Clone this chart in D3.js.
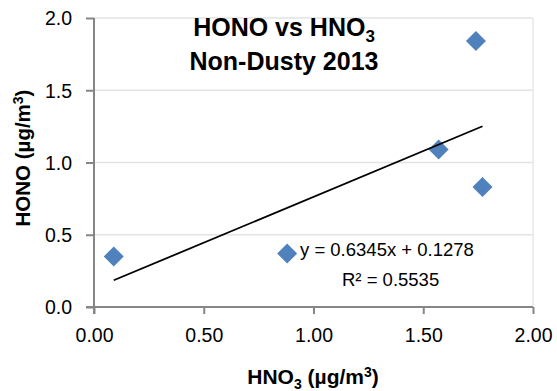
<!DOCTYPE html>
<html>
<head>
<meta charset="utf-8">
<script src="https://cdn.jsdelivr.net/npm/d3@7"></script>
<style>
  html, body { margin: 0; padding: 0; background: #fff; }
  svg { display: block; font-family: "Liberation Sans", Arial, sans-serif; }
</style>
</head>
<body>
<svg id="chart" width="557" height="391"></svg>
<script>
const hno3 = [0.09, 0.88, 1.57, 1.74, 1.77];
const hono = [0.35, 0.37, 1.09, 1.84, 0.83];
const xTicks = [0, 0.5, 1.0, 1.5, 2.0];
const yTicks = [0, 0.5, 1.0, 1.5, 2.0];
const slope = 0.6345, intercept = 0.1278;
const eqLabel = "y = 0.6345x + 0.1278";
const r2Label = "R² = 0.5535";

const svg = d3.select("#chart");
const x = d3.scaleLinear().domain([0, 2]).range([94, 533]);
const y = d3.scaleLinear().domain([0, 2]).range([307, 18]);

// gridlines
svg.append("g").selectAll("line").data(yTicks.filter(d => d > 0)).join("line")
  .attr("x1", x(0)).attr("x2", x(2))
  .attr("y1", d => y(d)).attr("y2", d => y(d))
  .attr("stroke", "#e3e3e3").attr("stroke-width", 1.3);
// right border
svg.append("line").attr("x1", x(2)).attr("x2", x(2)).attr("y1", y(2)).attr("y2", y(0))
  .attr("stroke", "#e3e3e3").attr("stroke-width", 1.3);

// axes
const yAxis = d3.axisLeft(y).tickValues(yTicks).tickFormat(d3.format(".1f")).tickSize(8).tickPadding(14);
const gy = svg.append("g").attr("transform", `translate(${x(0)},0)`).call(yAxis);
const xAxis = d3.axisBottom(x).tickValues(xTicks).tickFormat(d3.format(".2f")).tickSize(7).tickPadding(14);
const gx = svg.append("g").attr("transform", `translate(0,${y(0)})`).call(xAxis);
[gx, gy].forEach(g => {
  g.select(".domain").remove();
  g.selectAll("line").attr("stroke", "#868686").attr("stroke-width", 2);
  g.selectAll("text").attr("fill", "#000").style("font-size", "19.5px")
    .style("font-family", '"Liberation Sans", Arial, sans-serif');
});
gy.selectAll("text").attr("dy", "0.35em");
svg.append("line").attr("x1", x(0)).attr("x2", x(0)).attr("y1", y(2)).attr("y2", y(0) + 7)
  .attr("stroke", "#868686").attr("stroke-width", 2);
svg.append("line").attr("x1", x(0) - 8).attr("x2", x(2)).attr("y1", y(0)).attr("y2", y(0))
  .attr("stroke", "#868686").attr("stroke-width", 2);

// points
const data = hno3.map((v, i) => ({ x: v, y: hono[i] }));
svg.append("g").selectAll("path").data(data).join("path")
  .attr("transform", d => `translate(${x(d.x)},${y(d.y)})`)
  .attr("d", "M0,-10L10,0L0,10L-10,0Z")
  .attr("fill", "#4f81bd");

// trendline
const xmin = d3.min(hno3), xmax = d3.max(hno3);
svg.append("line")
  .attr("x1", x(xmin)).attr("y1", y(slope * xmin + intercept))
  .attr("x2", x(xmax)).attr("y2", y(slope * xmax + intercept))
  .attr("stroke", "#000").attr("stroke-width", 1.8);

// equation
svg.append("text").attr("x", 300).attr("y", 256).style("font-size", "18.5px").text(eqLabel);
svg.append("text").attr("x", 342).attr("y", 286).style("font-size", "18.5px").text(r2Label);

// title
const t1 = svg.append("text").attr("x", 284).attr("y", 36).attr("text-anchor", "middle")
  .style("font-size", "25px").style("font-weight", "bold");
t1.append("tspan").text("HONO vs HNO");
t1.append("tspan").attr("dy", 6).style("font-size", "17px").text("3");
svg.append("text").attr("x", 284).attr("y", 70).attr("text-anchor", "middle")
  .style("font-size", "25px").style("font-weight", "bold").text("Non-Dusty 2013");

// x axis title
const xt = svg.append("text").attr("x", 313).attr("y", 384).attr("text-anchor", "middle")
  .style("font-size", "21px").style("font-weight", "bold");
xt.append("tspan").text("HNO");
xt.append("tspan").attr("dy", 5).style("font-size", "14px").text("3");
xt.append("tspan").attr("dy", -5).text(" (µg/m");
xt.append("tspan").attr("dy", -7).style("font-size", "14px").text("3");
xt.append("tspan").attr("dy", 7).text(")");

// y axis title
const yt = svg.append("text").attr("transform", "translate(30,158) rotate(-90)").attr("text-anchor", "middle")
  .style("font-size", "20.5px").style("font-weight", "bold");
yt.append("tspan").text("HONO (µg/m");
yt.append("tspan").attr("dy", -7).style("font-size", "14px").text("3");
yt.append("tspan").attr("dy", 7).text(")");
</script>
</body>
</html>
